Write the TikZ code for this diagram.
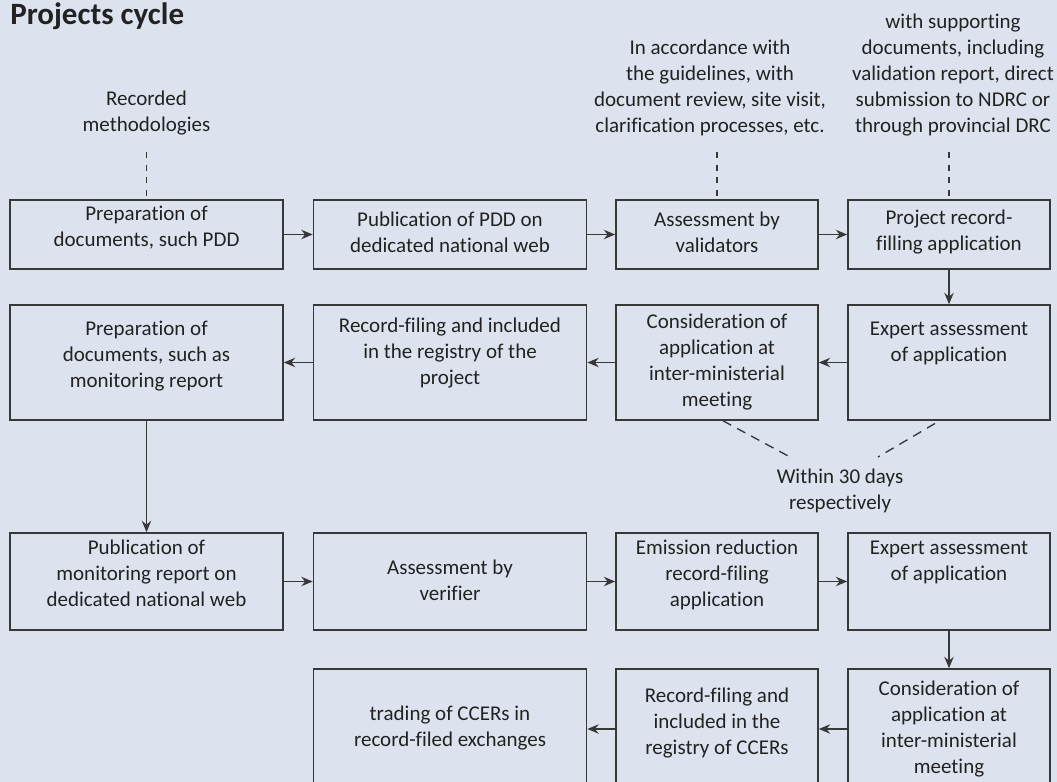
\documentclass[tikz,border=0pt]{standalone}
\usepackage{fontspec}
\setmainfont{Carlito}[Ligatures=NoCommon]
\usetikzlibrary{arrows.meta}
\definecolor{bg}{HTML}{DCE3EF}
\definecolor{ink}{HTML}{383838}
\definecolor{txtcol}{HTML}{222222}

\begin{document}
\begin{tikzpicture}[x=0.75pt, y=-0.75pt, >={Stealth[length=8.5pt,width=7pt]},
  box/.style = {draw=ink, line width=1.2pt, inner sep=0pt, minimum height=#1},
  wide/.style = {minimum width=204.75pt},
  slim/.style = {minimum width=151.5pt},
  txt/.style = {text=txtcol, align=center, inner sep=0pt, font=\fontsize{15.75}{19.5}\selectfont},
  link/.style = {->, draw=ink, line width=1.2pt},
  hint/.style = {draw=ink, line width=1pt, dash pattern=on 4.5pt off 5pt}]
\clip (0,0) rectangle (1057,782);
\fill[bg] (0,0) rectangle (1057,782);
\node[anchor=base west, inner sep=0pt, text=txtcol, font=\fontsize{23.25}{28}\selectfont\bfseries] (title) at (10,24) {Projects cycle};

% first row
\node[box=51.75pt, wide] (1) at (146.5,234.5) {};
\node[box=51.75pt, wide] (2) at (450,234.5) {};
\node[box=51.75pt, slim] (3) at (717,234.5) {};
\node[box=51.75pt, slim] (4) at (949,234.5) {};
\node[txt] (t1) at (146.5,228) {Preparation of\\documents, such PDD};
\node[txt] (t2) at (450,232) {Publication of PDD on\\dedicated national web};
\node[txt] (t3) at (717,232.5) {Assessment by\\validators};
\node[txt] (t4) at (949,232.5) {Project record-\\filling application};

% second row
\node[box=86.25pt, slim] (5) at (949,362.5) {};
\node[box=86.25pt, slim] (6) at (717,362.5) {};
\node[box=86.25pt, wide] (7) at (450,362.5) {};
\node[box=86.25pt, wide] (8) at (146.5,362.5) {};
\node[txt] (t5) at (949,343) {Expert assessment\\of application};
\node[txt] (t6) at (717,362) {Consideration of\\application at\\inter-ministerial\\meeting};
\node[txt] (t7) at (450,353.5) {Record-filing and included\\in the registry of the\\project};
\node[txt] (t8) at (146.5,356) {Preparation of\\documents, such as\\monitoring report};

% third row
\node[box=72.75pt, wide] (9) at (146.5,581.5) {};
\node[box=72.75pt, wide] (10) at (450,581.5) {};
\node[box=72.75pt, slim] (11) at (717,581.5) {};
\node[box=72.75pt, slim] (12) at (949,581.5) {};
\node[txt] (t9) at (146.5,573.5) {Publication of\\monitoring report on\\dedicated national web};
\node[txt] (t10) at (450,580) {Assessment by\\verifier};
\node[txt] (t11) at (717,574.5) {Emission reduction\\record-filing\\application};
\node[txt] (t12) at (949,562) {Expert assessment\\of application};

% fourth row
\node[box=90pt, slim] (13) at (949,729) {};
\node[box=90pt, slim] (14) at (717,729) {};
\node[box=90pt, wide] (15) at (450,729) {};
\node[txt] (t13) at (949,729) {Consideration of\\application at\\inter-ministerial\\meeting};
\node[txt] (t14) at (717,723) {Record-filing and\\included in the\\registry of CCERs};
\node[txt] (t15) at (450,728) {trading of CCERs in\\record-filed exchanges};

% notes
\node[txt] (n1) at (146.5,113.5) {Recorded\\methodologies};
\node[txt] (n2) at (710,88) {In accordance with\\the guidelines, with\\document review, site visit,\\clarification processes, etc.};
\node[txt] (n3) at (953,75) {with supporting\\documents, including\\validation report, direct\\submission to NDRC or\\through provincial DRC};
\node[txt] (n4) at (840,490.5) {Within 30 days\\respectively};
\coordinate (a1) at (146.5,152);
\coordinate (a3) at (717,152);
\coordinate (a4) at (949,152);
\coordinate (w1) at (790,457);
\coordinate (w2) at (878,457);
\draw[hint] (a1) -- (1);
\draw[hint] (a3) -- (3);
\draw[hint] (a4) -- (4);
\draw[hint, dash pattern=on 7pt off 5pt] ([xshift=4.5pt]6.south) -- (w1);
\draw[hint, dash pattern=on 7pt off 5pt] ([xshift=-10.5pt,yshift=-2pt]5.south) -- (w2);

\draw[link] (1) -- (2);
\draw[link] (2) -- (3);
\draw[link] (3) -- (4);
\draw[link] (4) -- (5);
\draw[link] (5) -- (6);
\draw[link] (6) -- (7);
\draw[link] (7) -- (8);
\draw[link] (8) -- (9);
\draw[link] (9) -- (10);
\draw[link] (10) -- (11);
\draw[link] (11) -- (12);
\draw[link] (12) -- (13);
\draw[link] (13) -- (14);
\draw[link] (14) -- (15);
\end{tikzpicture}
\end{document}
